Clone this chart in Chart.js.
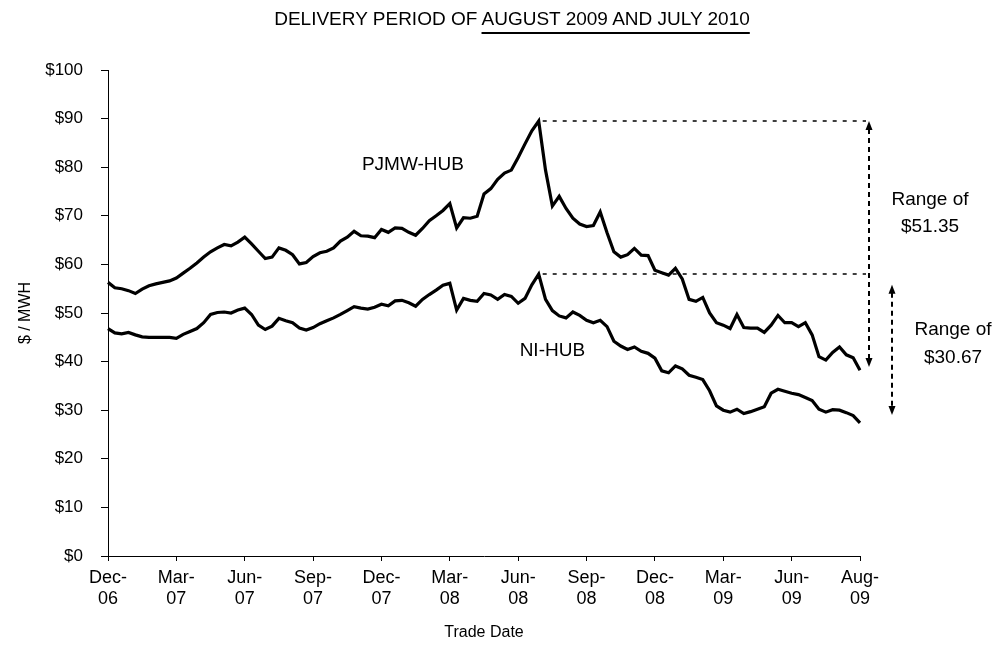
<!DOCTYPE html>
<html>
<head>
<meta charset="utf-8">
<script src="https://cdn.jsdelivr.net/npm/chart.js@4.4.1/dist/chart.umd.min.js"></script>
<style>
  html, body { margin: 0; padding: 0; background: #fff; }
  #wrap { position: relative; width: 996px; height: 665px; overflow: hidden; }
  #title {
    position: absolute; top: 8px; left: 512px; transform: translateX(-50%);
    white-space: nowrap; color: #000;
    font: 19px/22px "Liberation Sans", Arial, sans-serif;
  }
  #title u { text-underline-offset: 7px; text-decoration-thickness: 2px; }
</style>
</head>
<body>
<div id="wrap">
  <canvas id="chart" width="996" height="665"></canvas>
  <div id="title">DELIVERY PERIOD OF <u>AUGUST 2009 AND JULY 2010</u></div>
</div>
<script>
// one label every 10 trade-date points
const tickLabels = ['Dec-06', 'Mar-07', 'Jun-07', 'Sep-07', 'Dec-07', 'Mar-08',
                    'Jun-08', 'Sep-08', 'Dec-08', 'Mar-09', 'Jun-09', 'Aug-09'];
const pointsPerTick = 10;

// $/MWH, forward price for the Aug 2009 - Jul 2010 delivery period
const pjmwHub = [
  56.3, 55.2, 55.0, 54.6, 54.0, 54.9, 55.6, 56.0, 56.3, 56.6,
  57.2, 58.2, 59.2, 60.3, 61.5, 62.6, 63.4, 64.1, 63.8, 64.6,
  65.6, 64.2, 62.7, 61.2, 61.5, 63.4, 62.9, 62.0, 60.1, 60.4,
  61.6, 62.4, 62.7, 63.4, 64.8, 65.6, 66.8, 65.9, 65.8, 65.5,
  67.2, 66.6, 67.5, 67.4, 66.6, 66.0, 67.4, 69.0, 70.0, 71.1,
  72.5, 67.5, 69.6, 69.5, 69.9, 74.5, 75.6, 77.5, 78.8, 79.4,
  82.0, 84.8, 87.5, 89.5, 79.4, 72.0, 74.0, 71.5, 69.5, 68.3,
  67.8, 68.0, 70.8, 66.5, 62.6, 61.5, 62.0, 63.3, 61.9, 61.8,
  58.8, 58.3, 57.8, 59.2, 57.0, 52.8, 52.4, 53.2, 50.0, 48.0,
  47.5, 46.8, 49.7, 47.0, 46.9, 46.9, 46.0, 47.5, 49.5, 48.0,
  48.0, 47.2, 48.0, 45.5, 41.0, 40.3, 41.9, 43.0, 41.4, 40.8,
  38.2
];
const niHub = [
  46.8, 45.9, 45.7, 46.0, 45.5, 45.1, 45.0, 45.0, 45.0, 45.0,
  44.8, 45.6, 46.2, 46.8, 48.0, 49.7, 50.1, 50.2, 50.0, 50.6,
  51.0, 49.7, 47.5, 46.6, 47.3, 48.9, 48.4, 48.0, 46.9, 46.5,
  47.0, 47.8, 48.4, 49.0, 49.7, 50.5, 51.3, 51.0, 50.8, 51.2,
  51.8, 51.5, 52.5, 52.6, 52.1, 51.4, 52.8, 53.8, 54.7, 55.7,
  56.1, 50.6, 53.0, 52.6, 52.4, 54.0, 53.7, 52.8, 53.8, 53.4,
  52.0, 53.0, 55.8, 58.0, 52.8, 50.5, 49.4, 49.0, 50.2, 49.5,
  48.5, 48.0, 48.5, 47.2, 44.2, 43.2, 42.5, 43.0, 42.1, 41.7,
  40.7, 38.1, 37.7, 39.1, 38.5, 37.2, 36.8, 36.3, 34.0, 30.9,
  30.0, 29.6, 30.2, 29.3, 29.7, 30.2, 30.7, 33.5, 34.3, 33.9,
  33.5, 33.2, 32.6, 32.0, 30.2, 29.6, 30.1, 30.0, 29.5, 28.9,
  27.4
];

const categories = pjmwHub.map((v, i) => i % pointsPerTick === 0 ? tickLabels[i / pointsPerTick] : '');
const peakIndex = 63;

// text and arrows drawn over the plot (in data units / offsets from right edge)
const seriesNotes = [
  { text: 'PJMW-HUB', index: 44.6, value: 80.5 },
  { text: 'NI-HUB', index: 65.0, value: 42.3 }
];
const rangeNotes = [
  { top: 89.5, bottom: 38.9, lineFrom: 89.5, arrowDx: 9, textDx: 70, lines: ['Range of', '$51.35'], textValues: [73.3, 67.7] },
  { top: 55.8, bottom: 29.0, lineFrom: 58.0, arrowDx: 32, textDx: 93, lines: ['Range of', '$30.67'], textValues: [46.5, 40.7] }
];

const FONT = '"Liberation Sans", Arial, sans-serif';
Chart.defaults.font.family = FONT;
Chart.defaults.color = '#000';

function arrowHead(ctx, x, y, dir) {
  ctx.beginPath();
  ctx.moveTo(x, y);
  ctx.lineTo(x - 3.5, y - dir * 9);
  ctx.lineTo(x + 3.5, y - dir * 9);
  ctx.closePath();
  ctx.fill();
}

const notesPlugin = {
  id: 'notes',
  afterDatasetsDraw(chart) {
    const ctx = chart.ctx;
    const xs = chart.scales.x, ys = chart.scales.y;
    const right = chart.chartArea.right;
    ctx.save();
    ctx.fillStyle = '#000';
    ctx.strokeStyle = '#000';
    ctx.font = '19px ' + FONT;
    ctx.textAlign = 'center';
    ctx.textBaseline = 'middle';
    seriesNotes.forEach(n => {
      ctx.fillText(n.text, xs.getPixelForValue(n.index), ys.getPixelForValue(n.value));
    });

    const peakX = xs.getPixelForValue(peakIndex);
    rangeNotes.forEach(r => {
      const ax = right + r.arrowDx;
      // dotted guide from the peak
      const gy = ys.getPixelForValue(r.lineFrom);
      ctx.lineWidth = 1.5;
      ctx.setLineDash([4, 6]);
      ctx.beginPath();
      ctx.moveTo(peakX + 4, gy);
      ctx.lineTo(right + rangeNotes[0].arrowDx - 3, gy);
      ctx.stroke();
      // dashed vertical arrow
      const y1 = ys.getPixelForValue(r.top), y2 = ys.getPixelForValue(r.bottom);
      ctx.lineWidth = 2;
      ctx.setLineDash([5, 4]);
      ctx.beginPath();
      ctx.moveTo(ax, y1 + 8);
      ctx.lineTo(ax, y2 - 8);
      ctx.stroke();
      ctx.setLineDash([]);
      arrowHead(ctx, ax, y1, -1);
      arrowHead(ctx, ax, y2, 1);
      r.lines.forEach((t, j) => {
        ctx.fillText(t, right + r.textDx, ys.getPixelForValue(r.textValues[j]));
      });
    });
    ctx.restore();
  }
};

new Chart(document.getElementById('chart'), {
  type: 'line',
  data: {
    labels: categories,
    datasets: [
      { label: 'PJMW-HUB', data: pjmwHub, borderColor: '#000', borderWidth: 3.2, pointRadius: 0, tension: 0 },
      { label: 'NI-HUB', data: niHub, borderColor: '#000', borderWidth: 3.2, pointRadius: 0, tension: 0 }
    ]
  },
  options: {
    responsive: false,
    animation: false,
    devicePixelRatio: 1,
    layout: { padding: { left: 0, right: 136, top: 70, bottom: 0 } },
    plugins: { legend: { display: false }, tooltip: { enabled: false }, title: { display: false } },
    scales: {
      x: {
        grid: { drawOnChartArea: false, tickLength: 5, tickColor: '#000' },
        border: { color: '#000', width: 1 },
        ticks: {
          autoSkip: false, maxRotation: 0, padding: 6,
          font: { size: 18 },
          callback: function (val) {
            const l = this.getLabelForValue(val);
            return l ? [l.slice(0, 4), l.slice(4)] : null;
          }
        },
        title: { display: true, text: 'Trade Date', font: { size: 16 }, padding: { top: 0, bottom: 23 } },
        afterFit: s => { s.height = 109; }
      },
      y: {
        min: 0, max: 100,
        grid: { drawOnChartArea: false, tickLength: 7, tickColor: '#000' },
        border: { color: '#000', width: 1 },
        ticks: { stepSize: 10, padding: 18, font: { size: 17 }, callback: v => '$' + v },
        title: { display: true, text: '$ / MWH', font: { size: 16 }, padding: { top: 16, bottom: 0 } },
        afterFit: s => { s.width = 108; }
      }
    }
  },
  plugins: [notesPlugin]
});
</script>
</body>
</html>
